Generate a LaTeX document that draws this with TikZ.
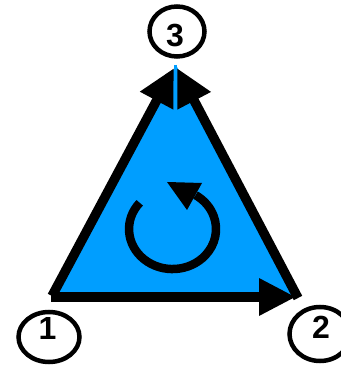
\documentclass[tikz,border=0pt]{standalone}
\usepackage{fontspec}
\setmainfont{Liberation Sans}
\usetikzlibrary{arrows.meta,shapes.geometric}
\definecolor{triblue}{RGB}{0,158,255}
\begin{document}
\begin{tikzpicture}[x=1pt,y=1pt,
  edge/.style={line width=9.5pt, -{Triangle[length=37pt,width=35pt]}},
  lab/.style={draw, line width=4.5pt, ellipse, inner sep=0pt},
  digit/.style={inner sep=0pt, font=\bfseries\fontsize{32}{32}\selectfont}]
\useasboundingbox (0,0) rectangle (340,366);
% blue face
\coordinate (v1) at (55,69);
\coordinate (v2) at (297,68);
\coordinate (v3) at (176,301);
\fill[triblue] (v1) -- (v2) -- (v3) -- cycle;
% edges
\coordinate (b1) at (51,69);
\coordinate (b2) at (296,69);
\coordinate (l1) at (52,70);
\coordinate (l3) at (174,298);
\coordinate (r2) at (298,68);
\coordinate (r3) at (177,298);
\draw[edge] (b1) -- (b2);
\draw[edge] (l1) -- (l3);
\draw[edge] (r2) -- (r3);
\coordinate (seam) at (175,250);
\draw[triblue, line width=3pt] (175,301) -- (seam);
% rotation arrow
\coordinate (rs) at (139.7,163.2);
\draw[line width=8.5pt] (rs) arc[start angle=139, end angle=418, x radius=43.5, y radius=40];
\coordinate (ht) at (167,184);
\coordinate (ha) at (202,183);
\coordinate (hb) at (187,156);
\fill (ht) -- (ha) -- (hb) -- cycle;
% vertex labels
\node[lab, minimum width=61pt, minimum height=50pt] (n1) at (49,29) {};
\node[digit] at ([xshift=-1.5pt,yshift=9pt]n1.center) {1};
\node[lab, minimum width=61pt, minimum height=54pt] (n2) at (320,32) {};
\node[digit] at ([xshift=1pt,yshift=6.5pt]n2.center) {2};
\node[lab, minimum width=55pt, minimum height=50pt] (n3) at (177,334.5) {};
\node[digit] at ([xshift=-2pt,yshift=-4pt]n3.center) {3};
\end{tikzpicture}
\end{document}
